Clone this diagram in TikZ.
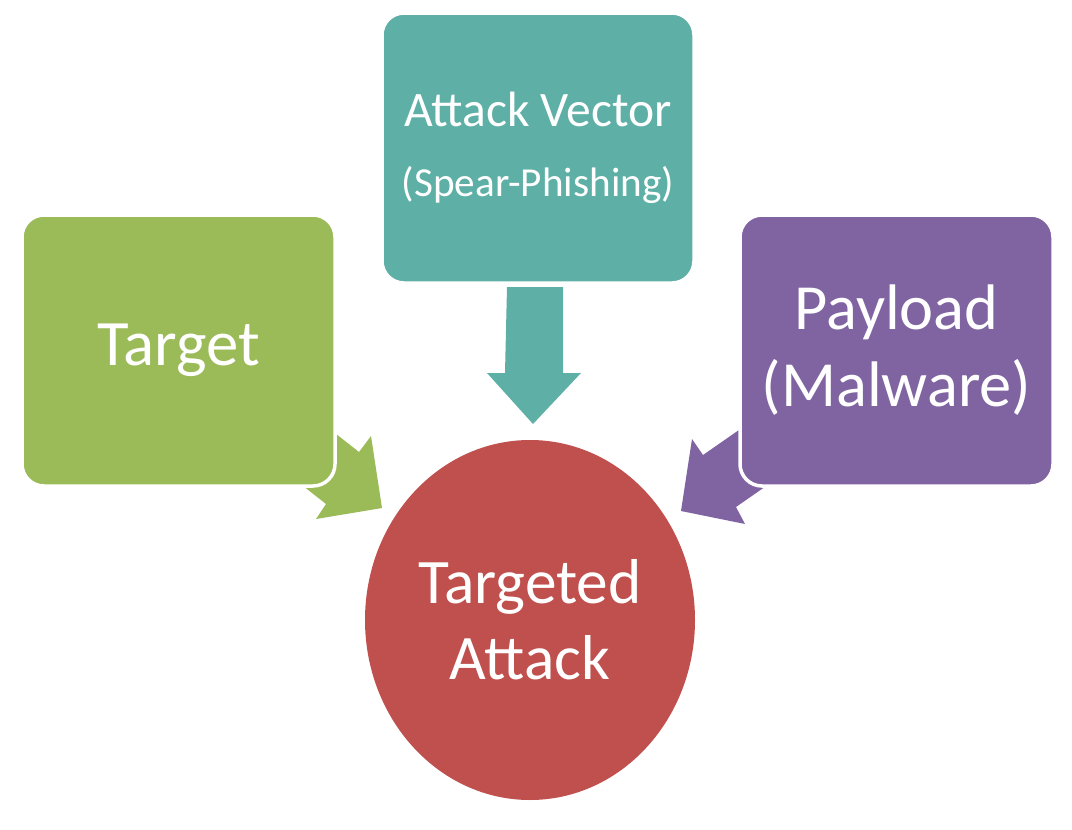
\documentclass[tikz,border=0pt]{standalone}
\usepackage{fontspec}
\setmainfont{Carlito}
\usetikzlibrary{shapes.geometric}
\definecolor{targetgreen}{HTML}{9BBB59}
\definecolor{vectorteal}{HTML}{5EAFA6}
\definecolor{payloadpurple}{HTML}{8064A2}
\definecolor{attackred}{HTML}{C0504D}
\begin{document}
\begin{tikzpicture}[x=0.5pt,y=-0.5pt,
    box/.style={draw=white,line width=1.75pt,rounded corners=11pt,inner sep=0pt,
                text=white,align=center,minimum width=156.5pt,minimum height=135.5pt}]
        \useasboundingbox (0,0) rectangle (1072,830);
        % draw the block arrows (behind the boxes)
        \fill[targetgreen] (312,415) -- (359,452) -- (371,436) -- (382,508) -- (316,519) -- (326,504) -- (279,467) -- cycle;
        \fill[payloadpurple] (785,398) -- (703,455) -- (692,439) -- (681,511) -- (745,524) -- (736,507) -- (818,450) -- cycle;
        \fill[vectorteal] (507,287) -- (563,287) -- (563,373) -- (581,373) -- (533,424) -- (487,373) -- (505,373) -- cycle;
        % draw the boxes
        \node[box,fill=targetgreen,font=\fontsize{32.4}{38}\selectfont] (target) at (178.5,350.5) {Target};
        \node[box,fill=vectorteal,minimum width=156pt,minimum height=135pt,font=\fontsize{24.8}{35}\selectfont] (vector) at (538,148)
            {Attack Vector\\{\fontsize{20.6}{35}\selectfont(Spear-Phishing)}};
        \node[box,fill=payloadpurple,font=\fontsize{32.2}{38.5}\selectfont] (payload) at (896.5,350.5) {Payload\\(Malware)};
        % draw the attack
        \node[ellipse,fill=attackred,inner sep=0pt,minimum width=165pt,minimum height=180pt,
              text=white,align=center,font=\fontsize{31.7}{38}\selectfont] (attack) at (530,620) {Targeted\\Attack};
\end{tikzpicture}
\end{document}
